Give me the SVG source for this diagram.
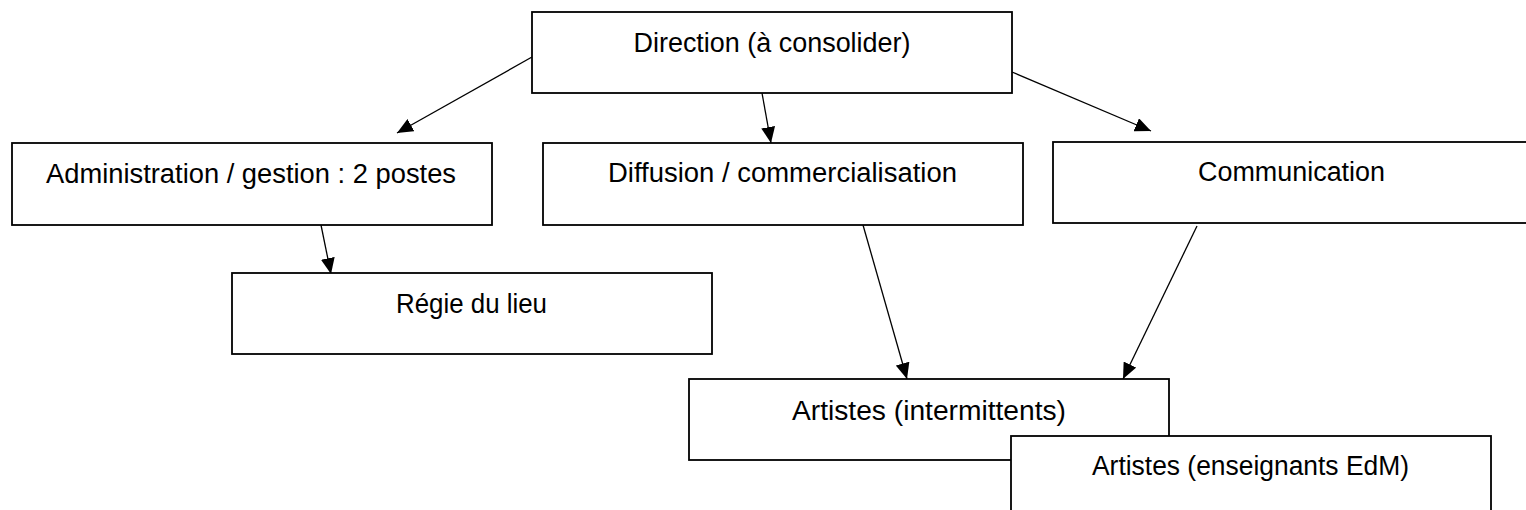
<svg xmlns="http://www.w3.org/2000/svg" width="1526" height="510" viewBox="0 0 1526 510">
<style>
.box{fill:#fff;stroke:#000;stroke-width:1.8}
.lbl{font-family:"Liberation Sans",Arial,sans-serif;font-size:27px;fill:#000;text-anchor:middle}
.con{stroke:#000;stroke-width:1.3;fill:none;marker-end:url(#ah)}
</style>
<defs>
<marker id="ah" markerUnits="userSpaceOnUse" markerWidth="17" markerHeight="14" refX="16" refY="7" orient="auto">
<path d="M0,0 L16,7 L0,14 z" fill="#000"/>
</marker>
</defs>
<rect width="1526" height="510" fill="#fff"/>
<g id="connectors">
<line class="con" x1="532" y1="57" x2="397" y2="133"/>
<line class="con" x1="762" y1="93" x2="771" y2="143"/>
<line class="con" x1="1012" y1="72" x2="1151" y2="131"/>
<line class="con" x1="321" y1="225" x2="331" y2="274"/>
<line class="con" x1="863" y1="225" x2="907" y2="379"/>
<line class="con" x1="1197" y1="226" x2="1123" y2="379"/>
</g>
<g id="direction">
<rect class="box" x="532" y="12" width="480" height="81"/>
<text class="lbl" x="772" y="52" textLength="277" lengthAdjust="spacingAndGlyphs">Direction (à consolider)</text>
</g>
<g id="administration">
<rect class="box" x="12" y="143" width="480" height="82"/>
<text class="lbl" x="251" y="183" textLength="410" lengthAdjust="spacingAndGlyphs">Administration / gestion : 2 postes</text>
</g>
<g id="diffusion">
<rect class="box" x="543" y="143" width="480" height="82"/>
<text class="lbl" x="782.5" y="182" textLength="349" lengthAdjust="spacingAndGlyphs">Diffusion / commercialisation</text>
</g>
<g id="communication">
<rect class="box" x="1053" y="142" width="480" height="81"/>
<text class="lbl" x="1291.5" y="181" textLength="187" lengthAdjust="spacingAndGlyphs">Communication</text>
</g>
<g id="regie">
<rect class="box" x="232" y="273" width="480" height="81"/>
<text class="lbl" x="471.5" y="313" textLength="151" lengthAdjust="spacingAndGlyphs">Régie du lieu</text>
</g>
<g id="artistes-intermittents">
<rect class="box" x="689" y="379" width="480" height="81"/>
<text class="lbl" x="929" y="420" textLength="274" lengthAdjust="spacingAndGlyphs">Artistes (intermittents)</text>
</g>
<g id="artistes-enseignants">
<rect class="box" x="1011" y="436" width="480" height="84"/>
<text class="lbl" x="1250.5" y="475" textLength="317" lengthAdjust="spacingAndGlyphs">Artistes (enseignants EdM)</text>
</g>
</svg>
